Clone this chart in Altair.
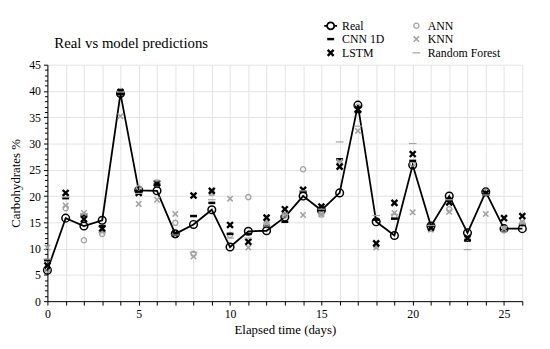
import altair as alt
import pandas as pd

days = list(range(27))
real = [5.9, 15.8, 14.3, 15.4, 39.5, 21.1, 21.0, 12.8, 14.6, 17.4, 10.3, 13.3, 13.4, 16.0,
        20.0, 17.3, 20.6, 37.3, 15.1, 12.5, 25.9, 14.3, 20.0, 13.0, 20.8, 13.8, 13.8]
ann = [6.0, 17.7, 11.6, 12.8, 40.0, 21.5, 22.6, 14.9, 9.0, 20.6, 12.6, 19.8, 14.8, 16.3,
       25.1, 16.5, 26.2, 37.0, 10.5, 16.2, 26.2, 13.8, 17.5, 12.0, 20.8, 13.5, 14.8]
cnn = [7.8, 19.6, 16.3, 14.3, 39.5, 20.8, 22.2, 12.6, 16.2, 18.7, 12.8, 12.8, 14.3, 15.1,
       20.8, 17.3, 27.0, 36.0, 15.5, 15.7, 26.7, 14.0, 19.5, 11.5, 20.3, 13.5, 14.5]
knn = [10.2, 18.2, 16.8, 13.2, 35.2, 18.5, 19.3, 16.6, 8.5, 20.6, 19.5, 10.2, 14.9, 16.4,
       16.4, 16.5, 26.5, 32.4, 10.2, 16.8, 16.9, 13.6, 17.0, 11.8, 16.6, 13.8, 15.1]
lstm = [6.8, 20.6, 15.6, 13.8, 39.8, 20.6, 22.4, 12.8, 20.1, 21.0, 14.5, 11.3, 15.9, 17.5,
        21.2, 18.0, 25.6, 36.5, 11.0, 18.7, 28.0, 14.0, 18.8, 12.0, 20.5, 15.8, 16.2]
rf = [8.0, 19.8, 16.7, 13.1, 39.8, 20.5, 22.9, 12.6, 9.3, 19.3, 12.0, 12.0, 14.3, 16.5,
      21.0, 17.5, 30.3, 33.3, 16.3, 16.5, 30.0, 14.4, 19.3, 9.8, 20.2, 14.2, 14.7]

models = ["Real", "CNN 1D", "LSTM", "ANN", "KNN", "Random Forest"]
GRAY = "#a3a3a3"
REAL_PATH = ("M-1,0L-0.55,0M0.55,0L1,0M-0.55,0A0.55,0.55,0,1,1,0.55,0"
             "A0.55,0.55,0,1,1,-0.55,0")
CROSS = "M-1,-1L1,1M-1,1L1,-1"
DASH = "M-1,0L1,0"
colors = ["black", "black", "black", GRAY, GRAY, GRAY]
shapes = [REAL_PATH, DASH, CROSS, "circle", CROSS, DASH]
sizes = [170, 49, 36, 28, 30, 60]
widths = [1.8, 2.5, 2.4, 1.3, 1.6, 1.2]

FONT = "Liberation Serif"

real_df = pd.DataFrame({"day": days, "value": real})
rows = []
for name, vals in [("ANN", ann), ("CNN 1D", cnn), ("KNN", knn), ("LSTM", lstm), ("Random Forest", rf)]:
    for d, v in zip(days, vals):
        rows.append({"day": d, "value": v, "model": name})
pred_df = pd.DataFrame(rows)

is5 = "datum.value % 5 == 0"
x = alt.X("day:Q", scale=alt.Scale(domain=[0, 26], nice=False),
          axis=alt.Axis(values=days, labelExpr=f"{is5} ? datum.label : ''",
                        title="Elapsed time (days)", grid=True, tickSize=4,
                        labelOverlap=False, labelFlush=False, labelPadding=4,
                        titlePadding=4))
y = alt.Y("value:Q", scale=alt.Scale(domain=[0, 45], nice=False),
          axis=alt.Axis(values=list(range(46)), labelExpr=f"{is5} ? datum.label : ''",
                        title="Carbohydrates %", grid=True,
                        gridOpacity=alt.condition(is5, alt.value(1), alt.value(0)),
                        tickSize=alt.condition(is5, alt.value(4), alt.value(3)),
                        labelOverlap=False, labelFlush=False, labelPadding=3,
                        titlePadding=6))

line = alt.Chart(real_df).mark_line(color="black", strokeWidth=1.8).encode(x=x, y=y)
circles = alt.Chart(real_df).mark_point(shape="circle", size=60, filled=True, fill="white",
                                         fillOpacity=0, stroke="black", strokeWidth=1.5,
                                         opacity=1).encode(x=x, y=y)

leg = alt.Legend(title=None, orient="none", legendX=280, legendY=-47, columns=2,
                 columnPadding=24, rowPadding=0, labelFont=FONT, labelFontSize=12,
                 labelColor="black", padding=0, labelOffset=4)
preds = alt.Chart(pred_df).mark_point(filled=False, opacity=1).encode(
    x=x, y=y,
    color=alt.Color("model:N", scale=alt.Scale(domain=models, range=colors), legend=leg),
    shape=alt.Shape("model:N", scale=alt.Scale(domain=models, range=shapes), legend=leg),
    size=alt.Size("model:N", scale=alt.Scale(type="ordinal", domain=models, range=sizes), legend=leg),
    strokeWidth=alt.StrokeWidth("model:N", scale=alt.Scale(type="ordinal", domain=models, range=widths), legend=leg),
)

chart = alt.layer(line, circles, preds).properties(
    width=482, height=240,
    autosize=alt.AutoSizeParams(type="none"),
    padding={"left": 40, "top": 55, "right": 20, "bottom": 46},
    title=alt.TitleParams("Real vs model predictions", anchor="start", font=FONT,
                          fontSize=15, fontWeight="normal", color="black", offset=0,
                          dy=33, dx=7, frame="group"),
).configure_view(strokeWidth=0).configure_axis(
    labelFont=FONT, labelFontSize=12, labelColor="black", titleFont=FONT,
    titleFontSize=13, titleFontWeight="normal", titleColor="black",
    domainColor="black", tickColor="black", gridColor="#e3e3e3",
)

chart.save("out.html", embed_options={"renderer": "svg", "actions": False})
